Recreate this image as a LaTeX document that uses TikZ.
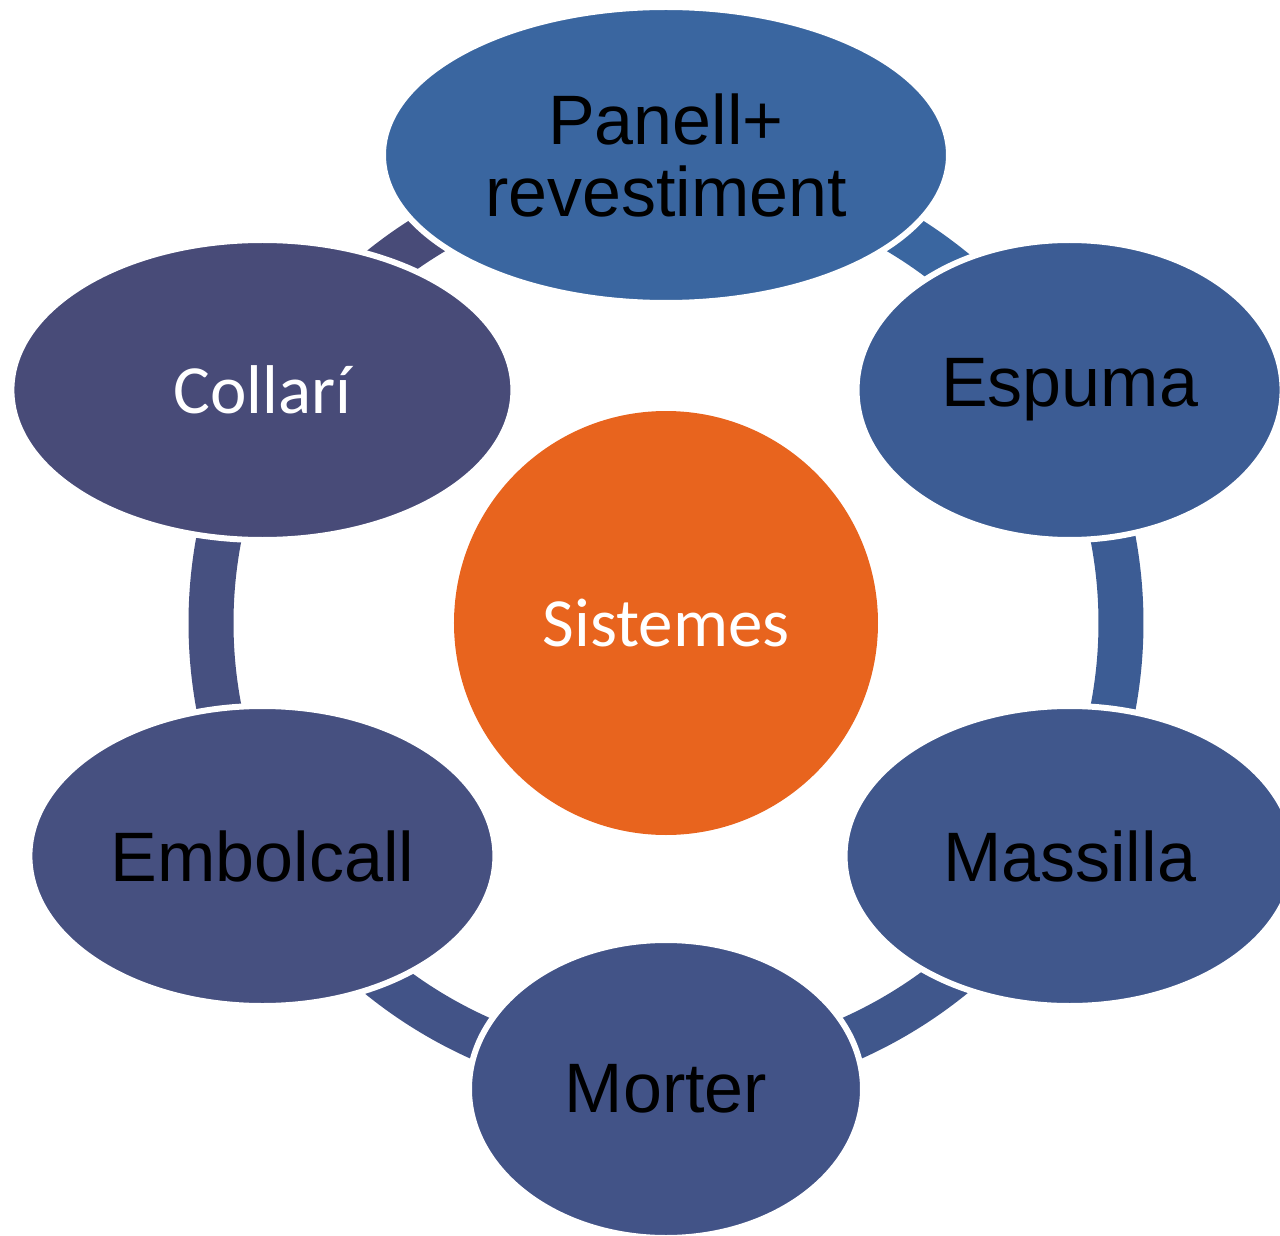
\documentclass[tikz,border=0pt]{standalone}
\usepackage{fontspec}
\setmainfont{Liberation Sans}
\newfontfamily\calibri{Carlito}
\usetikzlibrary{shapes.geometric}
\definecolor{cPanell}{HTML}{3A66A0}
\definecolor{cEspuma}{HTML}{3C5C94}
\definecolor{cMassilla}{HTML}{40578C}
\definecolor{cMorter}{HTML}{425387}
\definecolor{cEmbolcall}{HTML}{465080}
\definecolor{cCollari}{HTML}{484B78}
\definecolor{cSistemes}{HTML}{E8641E}

\begin{document}
\begin{tikzpicture}[x=1pt, y=1pt,
	item/.style={ellipse, draw=white, line width=6pt, inner sep=0pt, align=center,
		font=\fontsize{70}{72}\selectfont},
	ring/.style={line width=45pt}]
	\useasboundingbox (-666,-612) rectangle (614,623);

	\node[circle, fill=cSistemes, minimum size=424pt, inner sep=0pt, text=white,
		font=\calibri\fontsize{69}{72}\selectfont] (sys) at (0,0) {Sistemes};	% centre

	\draw[ring, cPanell] ([shift={(90:455)}]sys.center) arc[start angle=90, end angle=30, radius=455];	% ring
	\draw[ring, cEspuma] ([shift={(30:455)}]sys.center) arc[start angle=30, end angle=-30, radius=455];
	\draw[ring, cMassilla] ([shift={(-30:455)}]sys.center) arc[start angle=-30, end angle=-90, radius=455];
	\draw[ring, cMorter] ([shift={(-90:455)}]sys.center) arc[start angle=-90, end angle=-150, radius=455];
	\draw[ring, cEmbolcall] ([shift={(-150:455)}]sys.center) arc[start angle=-150, end angle=-210, radius=455];
	\draw[ring, cCollari] ([shift={(150:455)}]sys.center) arc[start angle=150, end angle=90, radius=455];

	\node[item, fill=cPanell, minimum width=566pt, minimum height=296pt] (panell) at (90:468) {Panell+\\revestiment};
	\node[item, fill=cEspuma, minimum width=426pt, minimum height=300pt] (espuma) at (30:466) {Espuma};
	\node[item, fill=cMassilla, minimum width=450pt, minimum height=300pt] (massilla) at (-30:466) {Massilla};
	\node[item, fill=cMorter, minimum width=394pt, minimum height=298pt] (morter) at (-90:466) {Morter};
	\node[item, fill=cEmbolcall, minimum width=466pt, minimum height=300pt] (embolcall) at (-150:466) {Embolcall};
	\node[item, fill=cCollari, minimum width=502pt, minimum height=300pt, text=white,
		font=\calibri\fontsize{69}{72}\selectfont] (collari) at (150:466) {Collarí};
\end{tikzpicture}
\end{document}
